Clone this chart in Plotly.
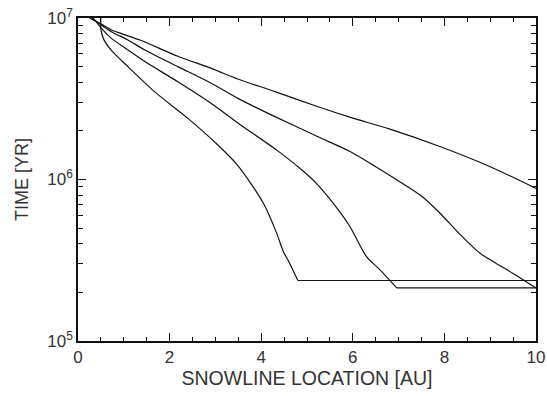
import plotly.graph_objects as go

# Curve data (x in AU, y in years)
c1_x = [0.25, 0.5, 0.73, 0.95, 1.38, 2.18, 2.91, 3.49, 4.3, 5.24, 6.0, 6.81, 7.9, 9.0, 10.0]
c1_y = [1.0e7, 9.2e6, 8.43e6, 8.0e6, 7.25e6, 5.8e6, 4.88e6, 4.19e6, 3.5e6, 2.82e6, 2.4e6, 2.05e6, 1.6e6, 1.2e6, 8.8e5]

c2_x = [0.29, 0.51, 0.73, 1.09, 1.46, 2.18, 2.91, 3.49, 4.3, 5.24, 5.94, 6.5, 7.0, 7.5, 7.9, 8.3, 8.78, 9.07, 9.5, 10.0]
c2_y = [1.0e7, 9.05e6, 8.23e6, 7.31e6, 6.34e6, 5.0e6, 3.94e6, 3.18e6, 2.45e6, 1.84e6, 1.49e6, 1.2e6, 9.8e5, 7.9e5, 6.2e5, 4.7e5, 3.49e5, 3.1e5, 2.62e5, 2.13e5]

c3_x = [0.33, 0.51, 0.73, 1.09, 1.46, 2.18, 2.91, 3.49, 4.34, 4.85, 5.2, 5.7, 5.94, 6.3, 6.6, 6.96, 10.0]
c3_y = [1.0e7, 8.63e6, 7.48e6, 6.34e6, 5.37e6, 4.03e6, 2.96e6, 2.24e6, 1.52e6, 1.17e6, 9.5e5, 6.4e5, 5.1e5, 3.33e5, 2.75e5, 2.13e5, 2.13e5]

c4_x = [0.5, 0.5, 0.56, 0.73, 1.09, 1.67, 2.4, 2.98, 3.49, 4.05, 4.34, 4.48, 4.59, 4.8, 10.0]
c4_y = [1.0e7, 8.5e6, 7.4e6, 6.3e6, 5.0e6, 3.5e6, 2.39e6, 1.71e6, 1.22e6, 7.1e5, 4.64e5, 3.6e5, 3.15e5, 2.37e5, 2.37e5]

x_ticks = [0, 2, 4, 6, 8, 10]
x_minor = [0.5, 1, 1.5, 2.5, 3, 3.5, 4.5, 5, 5.5, 6.5, 7, 7.5, 8.5, 9, 9.5]
y_ticks = [1e5, 1e6, 1e7]
y_ticktext = ["10<sup>5</sup>", "10<sup>6</sup>", "10<sup>7</sup>"]
y_minor = [m * 10 ** e for e in (5, 6) for m in range(2, 10)]

line_style = dict(color="#111111", width=1.2)

fig = go.Figure()
# curves with a final flat plateau: smooth descending part + straight plateau
for xs, ys, has_plateau in [(c1_x, c1_y, False), (c2_x, c2_y, False),
                            (c3_x, c3_y, True), (c4_x, c4_y, True)]:
    n = len(xs) - 1 if has_plateau else len(xs)
    fig.add_trace(go.Scatter(x=xs[:n], y=ys[:n], mode="lines",
                             line=dict(shape="spline", smoothing=0.8, **line_style),
                             showlegend=False, hoverinfo="skip"))
    if has_plateau:
        fig.add_trace(go.Scatter(x=xs[n - 1:], y=ys[n - 1:], mode="lines",
                                 line=line_style, showlegend=False, hoverinfo="skip"))

tick_font = dict(family="Liberation Sans, Arial, sans-serif", size=17, color="#333333")
title_font = dict(family="Liberation Sans, Arial, sans-serif", size=19.5, color="#333333")
ytitle_font = dict(family="Liberation Sans, Arial, sans-serif", size=18, color="#333333")

fig.update_layout(
    width=547, height=397,
    margin=dict(l=78, r=11, t=18, b=56),
    paper_bgcolor="white", plot_bgcolor="white",
    font=tick_font,
    xaxis=dict(
        range=[0, 10], showgrid=False, zeroline=False, automargin=False,
        showline=True, linecolor="#111111", linewidth=1.5, mirror="ticks",
        ticks="inside", ticklen=8, tickwidth=1, tickcolor="#111111",
        tickvals=x_ticks, ticktext=[str(v) for v in x_ticks], tickfont=tick_font,
        minor=dict(tickvals=x_minor, ticks="inside", ticklen=4, tickwidth=1, tickcolor="#111111", showgrid=False),
        title=dict(text="SNOWLINE LOCATION [AU]", standoff=3, font=title_font),
    ),
    yaxis=dict(
        type="log", range=[5, 7], showgrid=False, zeroline=False, automargin=False,
        showline=True, linecolor="#111111", linewidth=1.5, mirror="ticks",
        ticks="inside", ticklen=8, tickwidth=1, tickcolor="#111111",
        tickvals=y_ticks, ticktext=y_ticktext, tickfont=tick_font,
        minor=dict(tickvals=y_minor, ticks="inside", ticklen=5, tickwidth=1, tickcolor="#111111", showgrid=False),
        title=dict(text="TIME [YR]", standoff=14, font=ytitle_font),
    ),
)

fig.write_html("out.html")
